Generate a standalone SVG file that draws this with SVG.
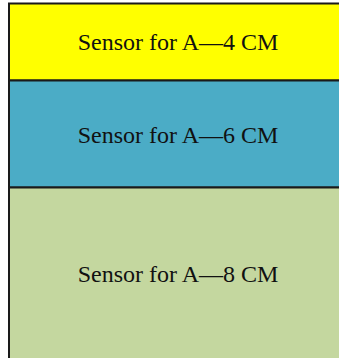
<svg xmlns="http://www.w3.org/2000/svg" width="339" height="358" viewBox="0 0 339 358">
<style>
.box{stroke:#1a1a1a;stroke-width:2}
.lbl{font-family:"Liberation Serif","Times New Roman",serif;font-size:24px;fill:#111;text-anchor:middle}
</style>
<rect width="339" height="358" fill="#ffffff"/>
<g id="node-a4">
<rect class="box" x="9" y="3.5" width="340" height="77" fill="#ffff00"/>
<text class="lbl" x="178" y="50">Sensor for A—4 CM</text>
</g>
<g id="node-a6">
<rect class="box" x="9" y="80.5" width="340" height="107" fill="#4bacc6"/>
<text class="lbl" x="178" y="142.5">Sensor for A—6 CM</text>
</g>
<g id="node-a8">
<rect class="box" x="9" y="187.5" width="340" height="180" fill="#c4d79f"/>
<text class="lbl" x="178" y="281.5">Sensor for A—8 CM</text>
</g>
<g id="connectors"></g>
</svg>
